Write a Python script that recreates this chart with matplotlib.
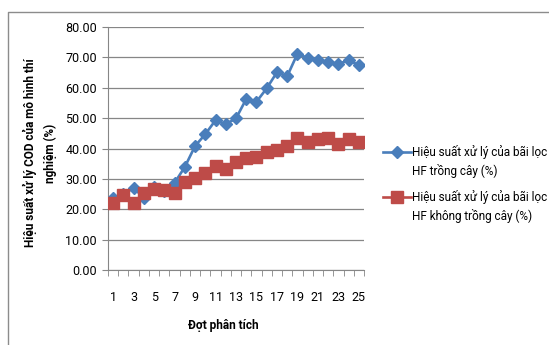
import matplotlib
matplotlib.use('Agg')
from matplotlib import pyplot as plt
from matplotlib.lines import Line2D

plt.rcParams['font.family'] = ['Roboto', 'DejaVu Sans']

dot = list(range(1, 26))
hf_trong_cay = [23.7, 25.0, 27.0, 23.8, 27.3, 26.0, 28.7, 33.9, 40.8, 44.7,
                49.3, 48.0, 49.9, 56.3, 55.4, 59.8, 65.1, 63.8, 71.2, 69.8,
                69.0, 68.4, 67.9, 69.0, 67.5]
hf_khong_trong = [22.1, 24.8, 22.1, 25.4, 26.7, 26.2, 25.2, 28.9, 30.4, 32.0,
                  34.2, 33.3, 35.5, 37.0, 37.3, 38.9, 39.4, 40.8, 43.6, 42.2,
                  43.0, 43.4, 41.4, 43.0, 42.2]
y_ticks = [0, 10, 20, 30, 40, 50, 60, 70, 80]
x_labels = [1, 3, 5, 7, 9, 11, 13, 15, 17, 19, 21, 23, 25]

blue = '#4A7EBB'
red = '#BE4B48'
grey = '#868686'

fig = plt.figure(figsize=(5.49, 3.45), dpi=100)
ax = fig.add_axes([108/549, 75/345, 256/549, 243/345])

ax.plot(dot, hf_trong_cay, color=blue, lw=1.9, marker='D', ms=6, zorder=3)
ax.plot(dot, hf_khong_trong, color=red, lw=1.9, marker='s', ms=8, zorder=4)

ax.set_xlim(0.5, 25.5)
ax.set_ylim(0, 80)
ax.set_yticks(y_ticks)
ax.set_yticklabels(['%.2f' % v for v in y_ticks], fontsize=9)
ax.set_xticks(x_labels)
ax.set_xticklabels([str(v) for v in x_labels], fontsize=9)
ax.set_xticks([i + 0.5 for i in range(0, 26)], minor=True)
ax.tick_params(axis='x', which='major', length=0, pad=15)
ax.tick_params(axis='x', which='minor', length=4, color=grey, direction='out')
ax.tick_params(axis='y', length=4, color=grey, pad=4)
ax.grid(axis='y', color=grey, lw=0.9)
ax.set_axisbelow(True)
for s in ['top', 'right']:
    ax.spines[s].set_visible(False)
ax.spines['left'].set_color(grey)
ax.spines['bottom'].set_color(grey)

fig.text(223/549, 1 - 326/345, 'Đợt phân tích', ha='center', va='center',
         fontsize=8.5, fontweight='bold')
fig.text(40/549, 1 - 153/345, 'Hiệu suất xử lý COD của mô hình thí\nnghiệm (%)',
         ha='center', va='center', rotation=90, fontsize=8.5,
         fontweight='bold', linespacing=1.6)

# legend
entries = [(blue, 'D', 6, 152, 'Hiệu suất xử lý của bãi lọc', 'HF trồng cây (%)'),
           (red, 's', 8, 197, 'Hiệu suất xử lý của bãi lọc', 'HF không trồng cây (%)')]
for col, mk, ms, ypx, l1, l2 in entries:
    yf = 1 - ypx/345
    fig.add_artist(Line2D([383/549, 411/549], [yf, yf], color=col, lw=1.9,
                          transform=fig.transFigure))
    fig.add_artist(Line2D([397/549], [yf], color=col, marker=mk, ms=ms,
                          transform=fig.transFigure))
    fig.text(412/549, yf, l1, ha='left', va='center', fontsize=8.5)
    fig.text(412/549, yf - 19/345, l2, ha='left', va='center', fontsize=8.5)

# chart border
fig.add_artist(Line2D([8/549, 8/549, 1], [0, 1 - 12/345, 1 - 12/345],
                      color='#8c8c8c', lw=1, transform=fig.transFigure))

fig.savefig('out.png', dpi=100)
